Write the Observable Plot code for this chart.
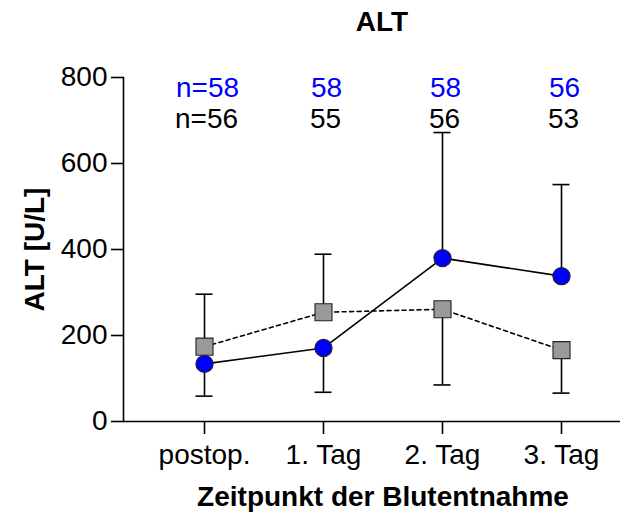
<!DOCTYPE html>
<html><head><meta charset="utf-8">
<script src="https://cdn.jsdelivr.net/npm/d3@7"></script>
<script src="https://cdn.jsdelivr.net/npm/@observablehq/plot@0.6"></script>
<style>
body{margin:0;background:#fff}
svg{font-family:"Liberation Sans",Arial,sans-serif}
</style>
</head><body><div id="chart"></div>
<script>
const categories = ["postop.", "1. Tag", "2. Tag", "3. Tag"];
const blueMeans = [134, 171, 380, 338];
const blueErrEnd = [59, 68, 672, 551];
const grayMeans = [174, 254, 261, 166];
const grayErrEnd = [296, 389, 85, 66];
const blueN = ["n=58", "58", "58", "56"];
const grayN = ["n=56", "55", "56", "53"];
const yTicks = [0, 200, 400, 600, 800];
const titleText = ["ALT"];
const yLabelText = ["ALT [U/L]"];
const xLabelText = ["Zeitpunkt der Blutentnahme"];

const blue = categories.map((c, i) => ({cat: c, mean: blueMeans[i], end: blueErrEnd[i], n: blueN[i]}));
const gray = categories.map((c, i) => ({cat: c, mean: grayMeans[i], end: grayErrEnd[i], n: grayN[i]}));

const FS = 28;
const plot = Plot.plot({
  width: 628,
  height: 515,
  marginLeft: 123,
  marginRight: 8,
  marginTop: 77,
  marginBottom: 94,
  style: {fontSize: FS + "px", fontFamily: '"Liberation Sans", Arial, sans-serif', background: "#fff", color: "#000"},
  x: {type: "point", domain: categories, range: [203, 561], padding: 0},
  y: {domain: [0, 800]},
  marks: [
    Plot.frame({anchor: "left", strokeWidth: 1.6}),
    Plot.ruleY([0], {strokeWidth: 1.6}),
    Plot.axisY({ticks: yTicks, tickSize: 12, tickPadding: 4, strokeWidth: 1.6, fontSize: FS, label: null}),
    Plot.axisX({tickSize: 13, tickPadding: 10, strokeWidth: 1.6, fontSize: FS, label: null}),
    // error bars
    Plot.ruleX(gray, {x: "cat", y1: "mean", y2: "end", strokeWidth: 1.6}),
    Plot.ruleY(gray, {y: "end", x1: "cat", x2: "cat", insetLeft: -8.5, insetRight: -8.5, strokeWidth: 1.6}),
    Plot.ruleX(blue, {x: "cat", y1: "mean", y2: "end", strokeWidth: 1.6}),
    Plot.ruleY(blue, {y: "end", x1: "cat", x2: "cat", insetLeft: -8.5, insetRight: -8.5, strokeWidth: 1.6}),
    // lines
    Plot.line(gray, {x: "cat", y: "mean", stroke: "#000", strokeWidth: 1.6, strokeDasharray: "4,3.5"}),
    Plot.line(blue, {x: "cat", y: "mean", stroke: "#000", strokeWidth: 1.6}),
    // markers
    Plot.dot(gray, {x: "cat", y: "mean", symbol: "square", r: 9.6, fill: "#9a9a9a", stroke: "#222", strokeWidth: 1.1}),
    Plot.dot(blue, {x: "cat", y: "mean", symbol: "circle", r: 8.6, fill: "#0000ff", stroke: "#222", strokeWidth: 1.1}),
    // n labels
    Plot.text(blue, {x: "cat", text: "n", frameAnchor: "top", lineAnchor: "middle", dy: 11, dx: 3, fill: "#0000ff", fontSize: FS}),
    Plot.text(gray, {x: "cat", text: "n", frameAnchor: "top", lineAnchor: "middle", dy: 42, dx: 2, fill: "#000", fontSize: FS}),
    // title and axis labels
    Plot.text(titleText, {frameAnchor: "top", lineAnchor: "middle", textAnchor: "middle", dy: -55, dx: 10, fontWeight: "bold", fontSize: FS}),
    Plot.text(yLabelText, {frameAnchor: "left", lineAnchor: "middle", textAnchor: "middle", rotate: -90, dx: -88, fontWeight: "bold", fontSize: FS}),
    Plot.text(xLabelText, {frameAnchor: "bottom", lineAnchor: "middle", textAnchor: "middle", dy: 76, dx: 11, fontWeight: "bold", fontSize: FS})
  ]
});
document.getElementById("chart").appendChild(plot);
</script>
</body></html>
